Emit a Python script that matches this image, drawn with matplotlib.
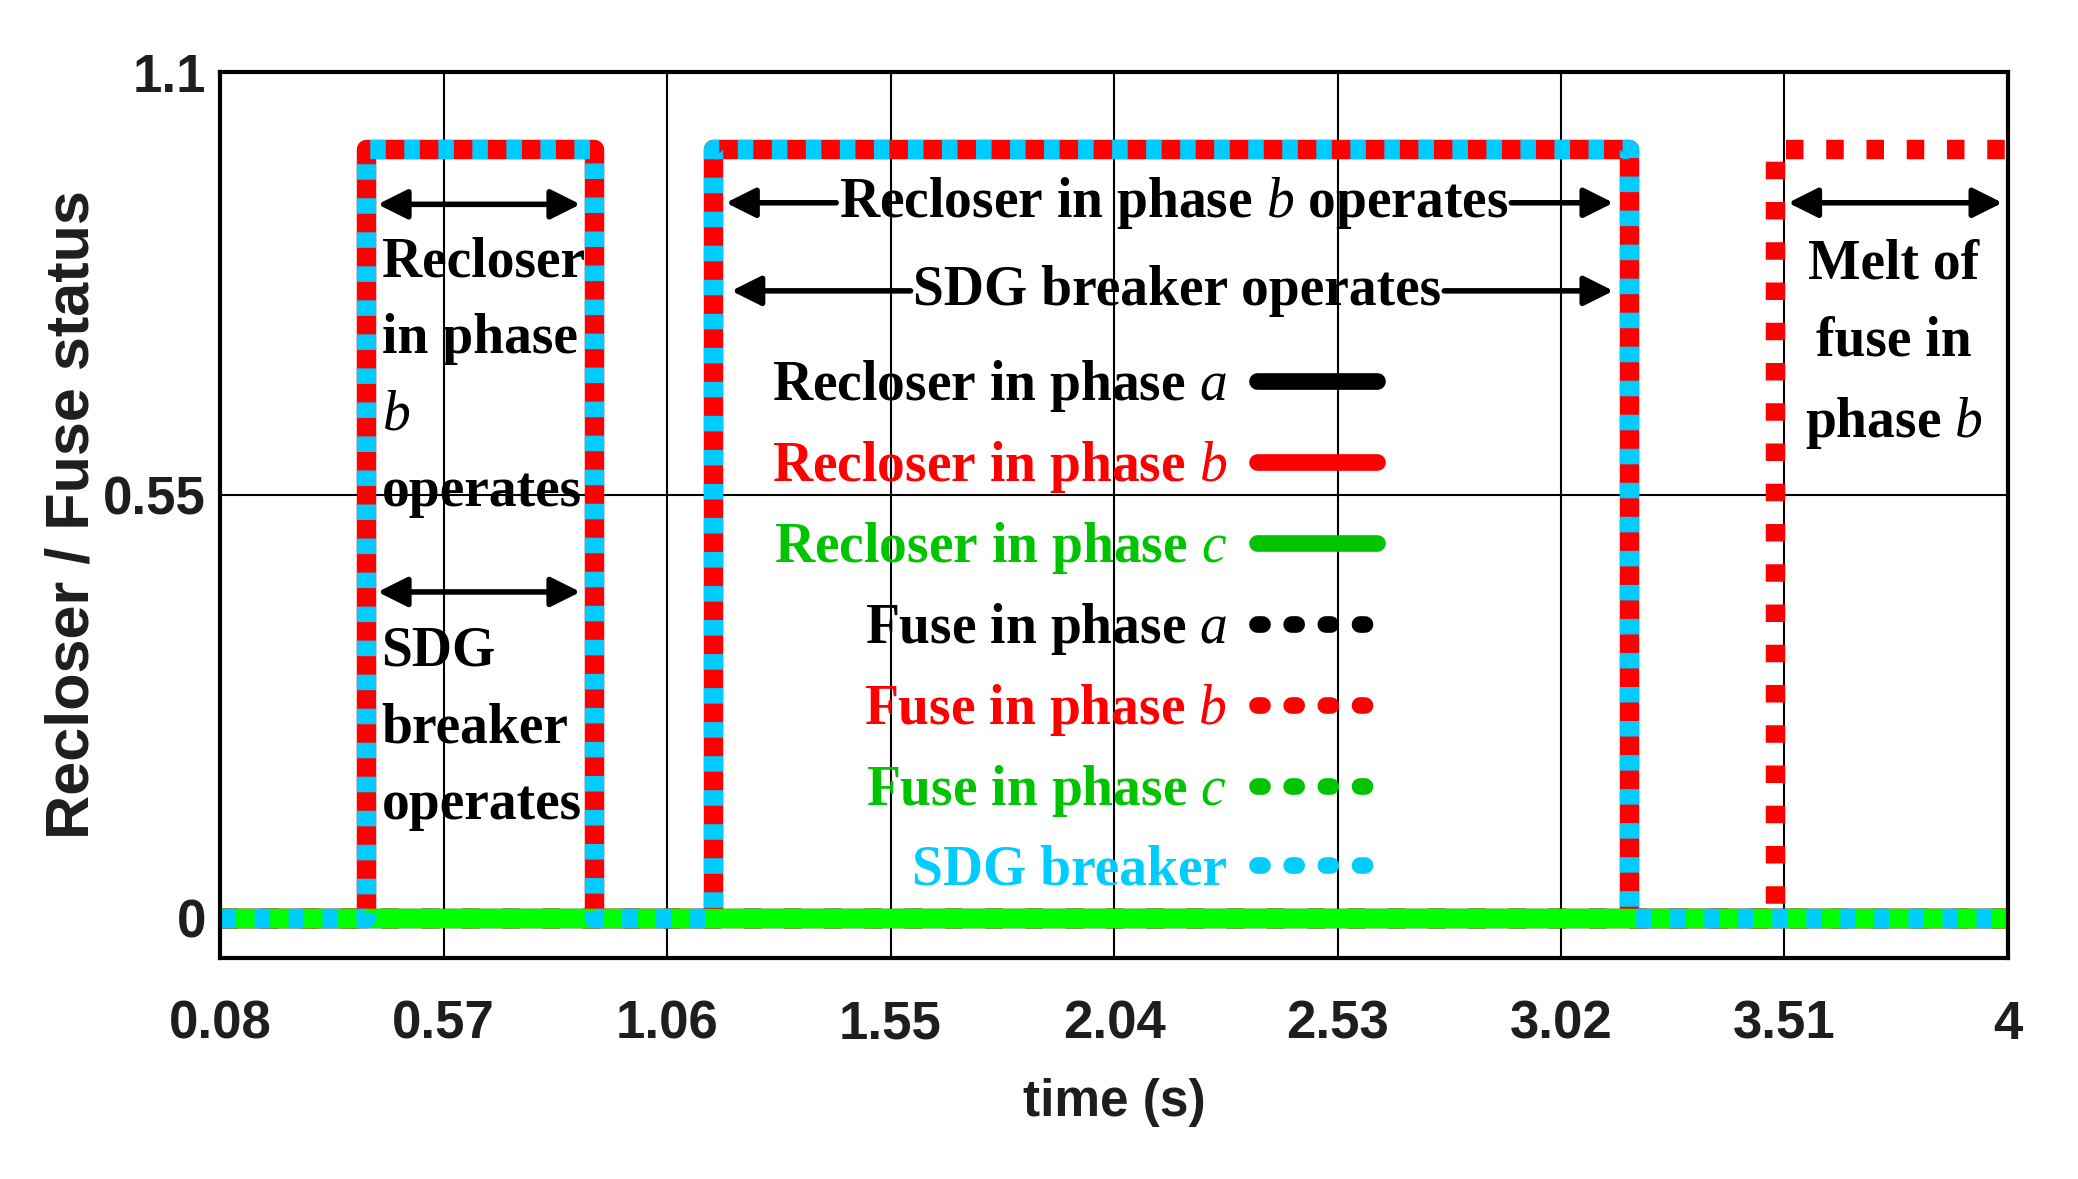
import numpy as np
import matplotlib.pyplot as plt
from matplotlib.lines import Line2D

plt.rcParams['mathtext.fontset'] = 'custom'
plt.rcParams['mathtext.rm'] = 'Liberation Serif'
plt.rcParams['mathtext.it'] = 'Liberation Serif:italic'

# switching instants (s) and status (1 = operated)
recloser_b_t = [0.08, 0.40, 0.90, 1.16, 3.17, 4.0]
recloser_b_s = [0, 1, 0, 1, 0, 0]
sdg_t = [0.08, 0.40, 0.90, 1.16, 3.17, 4.0]
sdg_s = [0, 1, 0, 1, 0, 0]
fuse_b_t = [0.08, 3.49, 4.0]
fuse_b_s = [0, 1, 1]
idle_t = [0.08, 4.0]      # recloser a/c, fuse a/c never operate
idle_s = [0, 0]

xticks = [0.08, 0.57, 1.06, 1.55, 2.04, 2.53, 3.02, 3.51, 4]
xlabels = ['0.08', '0.57', '1.06', '1.55', '2.04', '2.53', '3.02', '3.51', '4']
yticks = [0, 0.55, 1.1]
ylabels = ['0', '0.55', '1.1']

legend_labels = ['Recloser in phase $a$', 'Recloser in phase $b$', 'Recloser in phase $c$',
                 'Fuse in phase $a$', 'Fuse in phase $b$', 'Fuse in phase $c$', 'SDG breaker']

RED = '#ff0000'
GREEN = '#00ff00'
GREEN_TXT = '#00c400'
CYAN = '#00ccff'
LW = 14
SERIF = 'Liberation Serif'
SANS = 'Liberation Sans'
FS = 40

fig = plt.figure(figsize=(20.78, 11.79), dpi=100)
ax = fig.add_axes([0.1059, 0.1874, 0.8604, 0.7515])

dot_red = (0, (0.9, 1.17))
dot_cyan = (0, (0.8, 0.95))

ax.plot(idle_t, idle_s, color='k', lw=LW)                       # recloser a
ax.plot(idle_t, idle_s, color='k', lw=LW, ls=dot_red)           # fuse a
ax.plot(idle_t, idle_s, color=GREEN, lw=LW, ls=dot_red)         # fuse c
ax.plot(fuse_b_t, fuse_b_s, color=RED, lw=LW, ls=dot_red, drawstyle='steps-post')
ax.plot(recloser_b_t, recloser_b_s, color=RED, lw=LW, drawstyle='steps-post',
        solid_joinstyle='round')
ax.plot(idle_t, idle_s, color=GREEN, lw=LW)                     # recloser c
ax.plot(sdg_t, sdg_s, color=CYAN, lw=LW, ls=dot_cyan, drawstyle='steps-post')

ax.set_xlim(0.08, 4.0)
ax.set_ylim(-0.052, 1.1)
ax.set_xticks(xticks, xlabels)
ax.set_yticks(yticks, ylabels)
ax.grid(True, color='k', lw=1.5)
ax.set_axisbelow(True)
for s in ax.spines.values():
    s.set_linewidth(3)
ax.tick_params(axis='both', length=0, labelsize=38, labelcolor='#1e1e1e')
ax.tick_params(axis='x', pad=30)
ax.tick_params(axis='y', pad=10)
for lbl in ax.get_xticklabels() + ax.get_yticklabels():
    lbl.set_family(SANS)
    lbl.set_weight('bold')

ax.set_xlabel('time (s)', family=SANS, weight='bold', fontsize=37, color='#1e1e1e')
ax.xaxis.set_label_coords(0.5, -0.1625)
ax.xaxis.label.set_va('center')
ax.set_ylabel('Recloser / Fuse status', family=SANS, weight='bold',
              fontsize=44, color='#1e1e1e')
ax.yaxis.set_label_coords(-0.082, 0.5)
ax.yaxis.label.set_va('center')

# legend, text right aligned in front of the samples
solid = dict(lw=12, solid_capstyle='round')
dots = dict(lw=12, ls=(0, (0.3, 1.75)), dash_capstyle='round')
handles = [Line2D([], [], color='k', **solid),
           Line2D([], [], color=RED, **solid),
           Line2D([], [], color=GREEN_TXT, **solid),
           Line2D([], [], color='k', **dots),
           Line2D([], [], color=RED, **dots),
           Line2D([], [], color=GREEN_TXT, **dots),
           Line2D([], [], color=CYAN, **dots)]
ax.legend(handles, legend_labels, loc='upper right', bbox_to_anchor=(0.647, 0.677),
          frameon=False, markerfirst=False,
          prop={'family': SERIF, 'size': FS, 'weight': 'bold'},
          handlelength=2.15, handletextpad=0.55, labelspacing=0.45,
          borderpad=0, borderaxespad=0,
          labelcolor=['k', RED, GREEN_TXT, 'k', RED, GREEN_TXT, CYAN])

arrow_one = dict(arrowstyle='-|>,head_length=0.9,head_width=0.45', color='k', lw=4,
                 mutation_scale=20, shrinkA=0, shrinkB=0)
arrow_two = dict(arrowstyle='<|-|>,head_length=0.9,head_width=0.45', color='k', lw=4,
                 mutation_scale=20, shrinkA=0, shrinkB=0, patchA=None)
txt = dict(fontsize=FS, family=SERIF, weight='bold', ha='center', va='center')


def span_label(text, xt, x0, x1, y):
    ax.annotate(text, xy=(x0, y), xytext=(xt, y), arrowprops=arrow_one, **txt)
    ax.annotate(text, xy=(x1, y), xytext=(xt, y), color='none', arrowprops=arrow_one, **txt)


span_label('Recloser in phase $b$ operates', 2.171, 1.189, 3.135, 0.93)
span_label('SDG breaker operates', 2.179, 1.201, 3.135, 0.8155)

ax.annotate('', xy=(0.87, 0.928), xytext=(0.4255, 0.928), arrowprops=arrow_two)
ax.annotate('', xy=(0.87, 0.424), xytext=(0.4255, 0.424), arrowprops=arrow_two)
ax.annotate('', xy=(3.988, 0.93), xytext=(3.518, 0.93), arrowprops=arrow_two)

ax.text(0.434, 0.7035, 'Recloser\nin phase\n$b$\noperates', fontsize=FS, family=SERIF,
        weight='bold', ha='left', va='center', linespacing=1.61)
ax.text(0.434, 0.2466, 'SDG\nbreaker\noperates', fontsize=FS, family=SERIF,
        weight='bold', ha='left', va='center', linespacing=1.61)
ax.text(3.75, 0.746, 'Melt of\nfuse in\nphase $b$', fontsize=FS, family=SERIF,
        weight='bold', ha='center', va='center', multialignment='center', linespacing=1.64)

fig.savefig('out.png', dpi=100)
